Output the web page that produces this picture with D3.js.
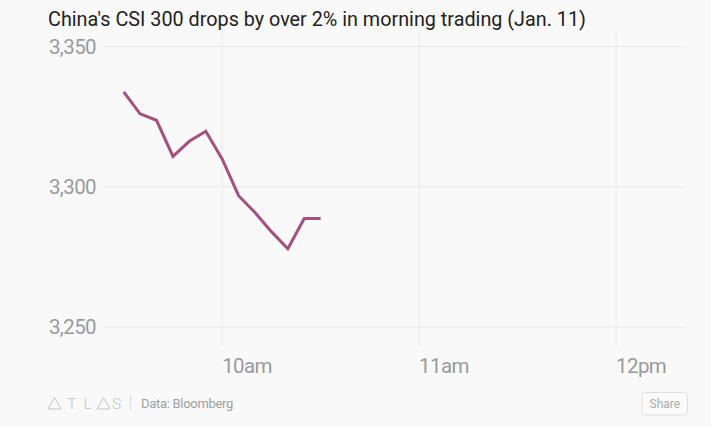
<!DOCTYPE html>
<html>
<head>
<meta charset="utf-8">
<script src="https://cdn.jsdelivr.net/npm/d3@7"></script>
<style>
  html, body { margin: 0; padding: 0; background: #f9f9f9; }
  svg { display: block; font-family: Roboto, "Noto Sans", sans-serif; }
</style>
</head>
<body>
<svg id="chart" width="711" height="427"></svg>
<script>
const title = "China's CSI 300 drops by over 2% in morning trading (Jan. 11)";
const times = ["09:30","09:35","09:40","09:45","09:50","09:55","10:00","10:05","10:10","10:15","10:20","10:25","10:30"];
const values = [3333.8, 3326.0, 3323.7, 3310.8, 3316.2, 3319.8, 3309.9, 3296.8, 3290.8, 3284.0, 3277.9, 3288.7, 3288.7];
const yTicks = [3250, 3300, 3350];
const xTicks = ["10:00", "11:00", "12:00"];
const xTickLabels = ["10am", "11am", "12pm"];
const source = "Data: Bloomberg";

const parse = d3.timeParse("%H:%M");
const svg = d3.select("#chart");

const x = d3.scaleTime().domain([parse("09:24"), parse("12:21")]).range([104, 685]);
const y = d3.scaleLinear().domain([3250, 3350]).range([327, 46.5]);

// title
svg.append("text").attr("x", 48).attr("y", 26)
  .attr("font-size", 19.8).attr("fill", "#222")
  .text(title);

// horizontal grid
svg.append("g").selectAll("line").data(yTicks).join("line")
  .attr("x1", 104).attr("x2", 685)
  .attr("y1", d => y(d)).attr("y2", d => y(d))
  .attr("stroke", "#e9e9e9").attr("stroke-width", 1);

// vertical grid
svg.append("g").selectAll("line").data(xTicks).join("line")
  .attr("x1", d => x(parse(d))).attr("x2", d => x(parse(d)))
  .attr("y1", 32).attr("y2", 346)
  .attr("stroke", "#e9e9e9").attr("stroke-width", 1);

// y labels
const fmt = d3.format(",");
svg.append("g").selectAll("text").data(yTicks).join("text")
  .attr("x", 96).attr("y", d => y(d)).attr("dy", "0.35em")
  .attr("text-anchor", "end").attr("font-size", 20.5)
  .attr("fill", "#9a9a9e").attr("letter-spacing", -0.6)
  .text(d => fmt(d));

// x labels
svg.append("g").selectAll("text").data(xTicks).join("text")
  .attr("x", d => x(parse(d))).attr("y", 373)
  .attr("font-size", 20.5).attr("fill", "#9a9a9e").attr("letter-spacing", -0.6)
  .text((d, i) => xTickLabels[i]);

// line
const line = d3.line().x((d, i) => x(parse(times[i]))).y(d => y(d));
svg.append("path").datum(values)
  .attr("d", line).attr("fill", "none")
  .attr("stroke", "#a3527f").attr("stroke-width", 3)
  .attr("stroke-linejoin", "miter").attr("stroke-linecap", "butt");

// footer: ATLAS logo
const logo = svg.append("g").attr("fill", "none").attr("stroke", "#c4c4c4").attr("stroke-width", 1);
logo.append("path").attr("d", "M48,409 L54.5,397.5 L61,409 Z");
logo.append("path").attr("d", "M97,409 L103.5,397.5 L110,409 Z");
[["T", 72], ["L", 87.5], ["S", 116.5]].forEach(([ch, cx]) => {
  svg.append("text").attr("x", cx).attr("y", 409).attr("text-anchor", "middle")
    .attr("font-size", 15.5).attr("font-weight", 300).attr("fill", "#c4c4c4").text(ch);
});
svg.append("line").attr("x1", 130.5).attr("x2", 130.5).attr("y1", 395).attr("y2", 411)
  .attr("stroke", "#dcdcdc");
svg.append("text").attr("x", 141).attr("y", 408).attr("font-size", 13)
  .attr("fill", "#a0a0a0").attr("letter-spacing", -0.3).text(source);

// share button
svg.append("rect").attr("x", 642).attr("y", 392.5).attr("width", 45.5).attr("height", 22.5)
  .attr("rx", 3).attr("fill", "#fafafa").attr("stroke", "#dedede");
svg.append("text").attr("x", 664.8).attr("y", 408).attr("text-anchor", "middle")
  .attr("font-size", 12).attr("fill", "#aaa").text("Share");
</script>
</body>
</html>
